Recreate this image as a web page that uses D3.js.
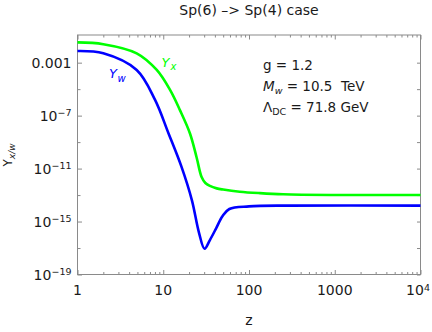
<!DOCTYPE html>
<html>
<head>
<meta charset="utf-8">
<script src="https://cdn.jsdelivr.net/npm/d3@7"></script>
<style>
  body { margin: 0; background: #fff; }
  text { font-family: "DejaVu Sans", sans-serif; fill: #1a1a1a; }
  .frame { fill: none; stroke: #8a8a8a; stroke-width: 1; }
  .tick line { stroke: #8a8a8a; }
  .domain { display: none; }
</style>
</head>
<body>
<svg width="432" height="332"></svg>
<script>
// Y_x (green): z and Y
var zX = [1, 2, 4.9, 8.4, 12, 15.7, 20.5, 24.5, 28, 31, 35, 42, 50, 78, 134, 250, 900, 10000];
var yX = [3.4e-2, 2.5e-2, 5.1e-3, 2.8e-4, 8.7e-6, 2.5e-7, 4.5e-9, 6.9e-11, 2.3e-12,
          8.1e-13, 4.9e-13, 3.2e-13, 2.6e-13, 1.8e-13, 1.4e-13, 1.15e-13, 1.02e-13, 1.0e-13];

// Y_w (blue)
var zW = [1, 2, 4.9, 8, 11.5, 16.3, 21.6, 26, 30.3, 35, 41.5, 49, 59, 100, 300, 10000];
var yW = [7.6e-3, 5.1e-3, 2.8e-4, 1.6e-6, 4.7e-9, 1.4e-11, 4.0e-14, 1.6e-16, 8.9e-18,
          4.0e-17, 3.2e-16, 2.5e-15, 8.9e-15, 1.4e-14, 1.6e-14, 1.6e-14];

var xMajor = [1, 10, 100, 1000, 10000];
var xLabels = [["1"], ["10"], ["100"], ["1000"], ["10", "4"]];
var yMajor = [1e-3, 1e-7, 1e-11, 1e-15, 1e-19];
var yLabels = [["0.001"], ["10", "\u22127"], ["10", "\u221211"], ["10", "\u221215"], ["10", "\u221219"]];
var yMinor = [1e-5, 1e-9, 1e-13, 1e-17];

var svg = d3.select('svg');
var margin = {top: 35, right: 11.5, bottom: 57.5, left: 77.5}
  , width = 432 - margin.left - margin.right
  , height = 332 - margin.top - margin.bottom;

var xScale = d3.scaleLog().domain([1, 10000]).range([0, width]);
var yScale = d3.scaleLog().domain([1e-19, Math.pow(10, -0.91)]).range([height, 0]);

var xMinor = [];
[1, 10, 100, 1000].forEach(function(d) {
  for (var k = 2; k <= 9; k++) xMinor.push(d * k);
});

var g = svg.append('g')
    .attr('transform', 'translate(' + margin.left + ',' + margin.top + ')');

// ticks (inside the frame, on all four sides)
g.append('g').attr('transform', 'translate(0,' + height + ')')
  .call(d3.axisBottom(xScale).tickValues(xMinor).tickSize(-2.5).tickFormat(''));
g.append('g').attr('transform', 'translate(0,' + height + ')')
  .call(d3.axisBottom(xScale).tickValues(xMajor).tickSize(-4.5).tickFormat(''));
g.append('g')
  .call(d3.axisTop(xScale).tickValues(xMinor).tickSize(-2.5).tickFormat(''));
g.append('g')
  .call(d3.axisTop(xScale).tickValues(xMajor).tickSize(-4.5).tickFormat(''));
g.append('g')
  .call(d3.axisLeft(yScale).tickValues(yMajor).tickSize(-4.5).tickFormat(''));
g.append('g')
  .call(d3.axisLeft(yScale).tickValues(yMinor).tickSize(-3).tickFormat(''));
g.append('g').attr('transform', 'translate(' + width + ',0)')
  .call(d3.axisRight(yScale).tickValues(yMajor.concat(yMinor)).tickSize(-3.5).tickFormat(''));

g.append('rect').attr('class', 'frame')
  .attr('width', width).attr('height', height);

// tick labels with superscripts
var addLabel = function(sel, parts) {
  sel.append('tspan').text(parts[0]);
  if (parts.length > 1) {
    sel.append('tspan').text(parts[1])
      .attr('font-size', '9.5px')
      .attr('dy', -4.5);
  }
};

xMajor.forEach(function(d, i) {
  var t = g.append('text')
    .attr('x', xScale(d) - (xLabels[i].length > 1 ? 2.5 : 0))
    .attr('y', height + 20.5)
    .attr('text-anchor', 'middle')
    .attr('font-size', '14px');
  addLabel(t, xLabels[i]);
});

yMajor.forEach(function(d, i) {
  var t = g.append('text')
    .attr('x', -6)
    .attr('y', yScale(d) + 5)
    .attr('text-anchor', 'end')
    .attr('font-size', '14px');
  addLabel(t, yLabels[i]);
});

// curves
var line = d3.line()
    .x(function(d) { return xScale(d[0]); })
    .y(function(d) { return yScale(d[1]); })
    .curve(d3.curveCatmullRom.alpha(0.5));

g.append('path')
    .datum(d3.zip(zX, yX))
    .attr('fill', 'none')
    .attr('stroke', '#00ff00')
    .attr('stroke-width', 2.6)
    .attr('d', line);

g.append('path')
    .datum(d3.zip(zW, yW))
    .attr('fill', 'none')
    .attr('stroke', '#0000ff')
    .attr('stroke-width', 2.6)
    .attr('d', line);

// curve labels
var lx = svg.append('text').attr('x', 161.5).attr('y', 66.5)
  .attr('font-size', '13px').style('fill', '#00ff00').style('font-style', 'italic');
lx.append('tspan').text('Y');
lx.append('tspan').text('x').attr('font-size', '10px').attr('dy', 3.5).attr('dx', 1);

var lw = svg.append('text').attr('x', 109).attr('y', 78.3)
  .attr('font-size', '13px').style('fill', '#0000ff').style('font-style', 'italic');
lw.append('tspan').text('Y');
lw.append('tspan').text('w').attr('font-size', '10px').attr('dy', 3.5).attr('dx', 0.5);

// parameters
svg.append('text').attr('x', 263).attr('y', 70)
  .attr('font-size', '13.5px').text('g = 1.2');

var tm = svg.append('text').attr('x', 263).attr('y', 91)
  .attr('font-size', '13.5px');
tm.append('tspan').text('M').style('font-style', 'italic');
tm.append('tspan').text('w').style('font-style', 'italic').attr('font-size', '9.5px').attr('dy', 3);
tm.append('tspan').text(' = 10.5 \u00a0TeV').attr('dy', -3);

var tl = svg.append('text').attr('x', 263).attr('y', 111.5)
  .attr('font-size', '13.5px');
tl.append('tspan').text('\u039b');
tl.append('tspan').text('DC').attr('font-size', '9.5px').attr('dy', 3);
tl.append('tspan').text(' = 71.8 GeV').attr('dy', -3);

// title and axis titles
svg.append('text')
    .text('Sp(6) \u2013> Sp(4) case')
    .attr('x', margin.left + width / 2)
    .attr('y', 15)
    .attr('text-anchor', 'middle')
    .attr('font-size', '14px');

svg.append('text')
    .text('z')
    .attr('x', margin.left + width / 2)
    .attr('y', 325)
    .attr('text-anchor', 'middle')
    .attr('font-size', '14px');

var yl = svg.append('text')
    .attr('transform', 'translate(12,155) rotate(-90)')
    .attr('text-anchor', 'middle')
    .attr('font-size', '12px');
yl.append('tspan').text('Y');
yl.append('tspan').text('x/w').attr('font-size', '9px').style('font-style', 'italic').attr('dy', 3);
</script>
</body>
</html>
